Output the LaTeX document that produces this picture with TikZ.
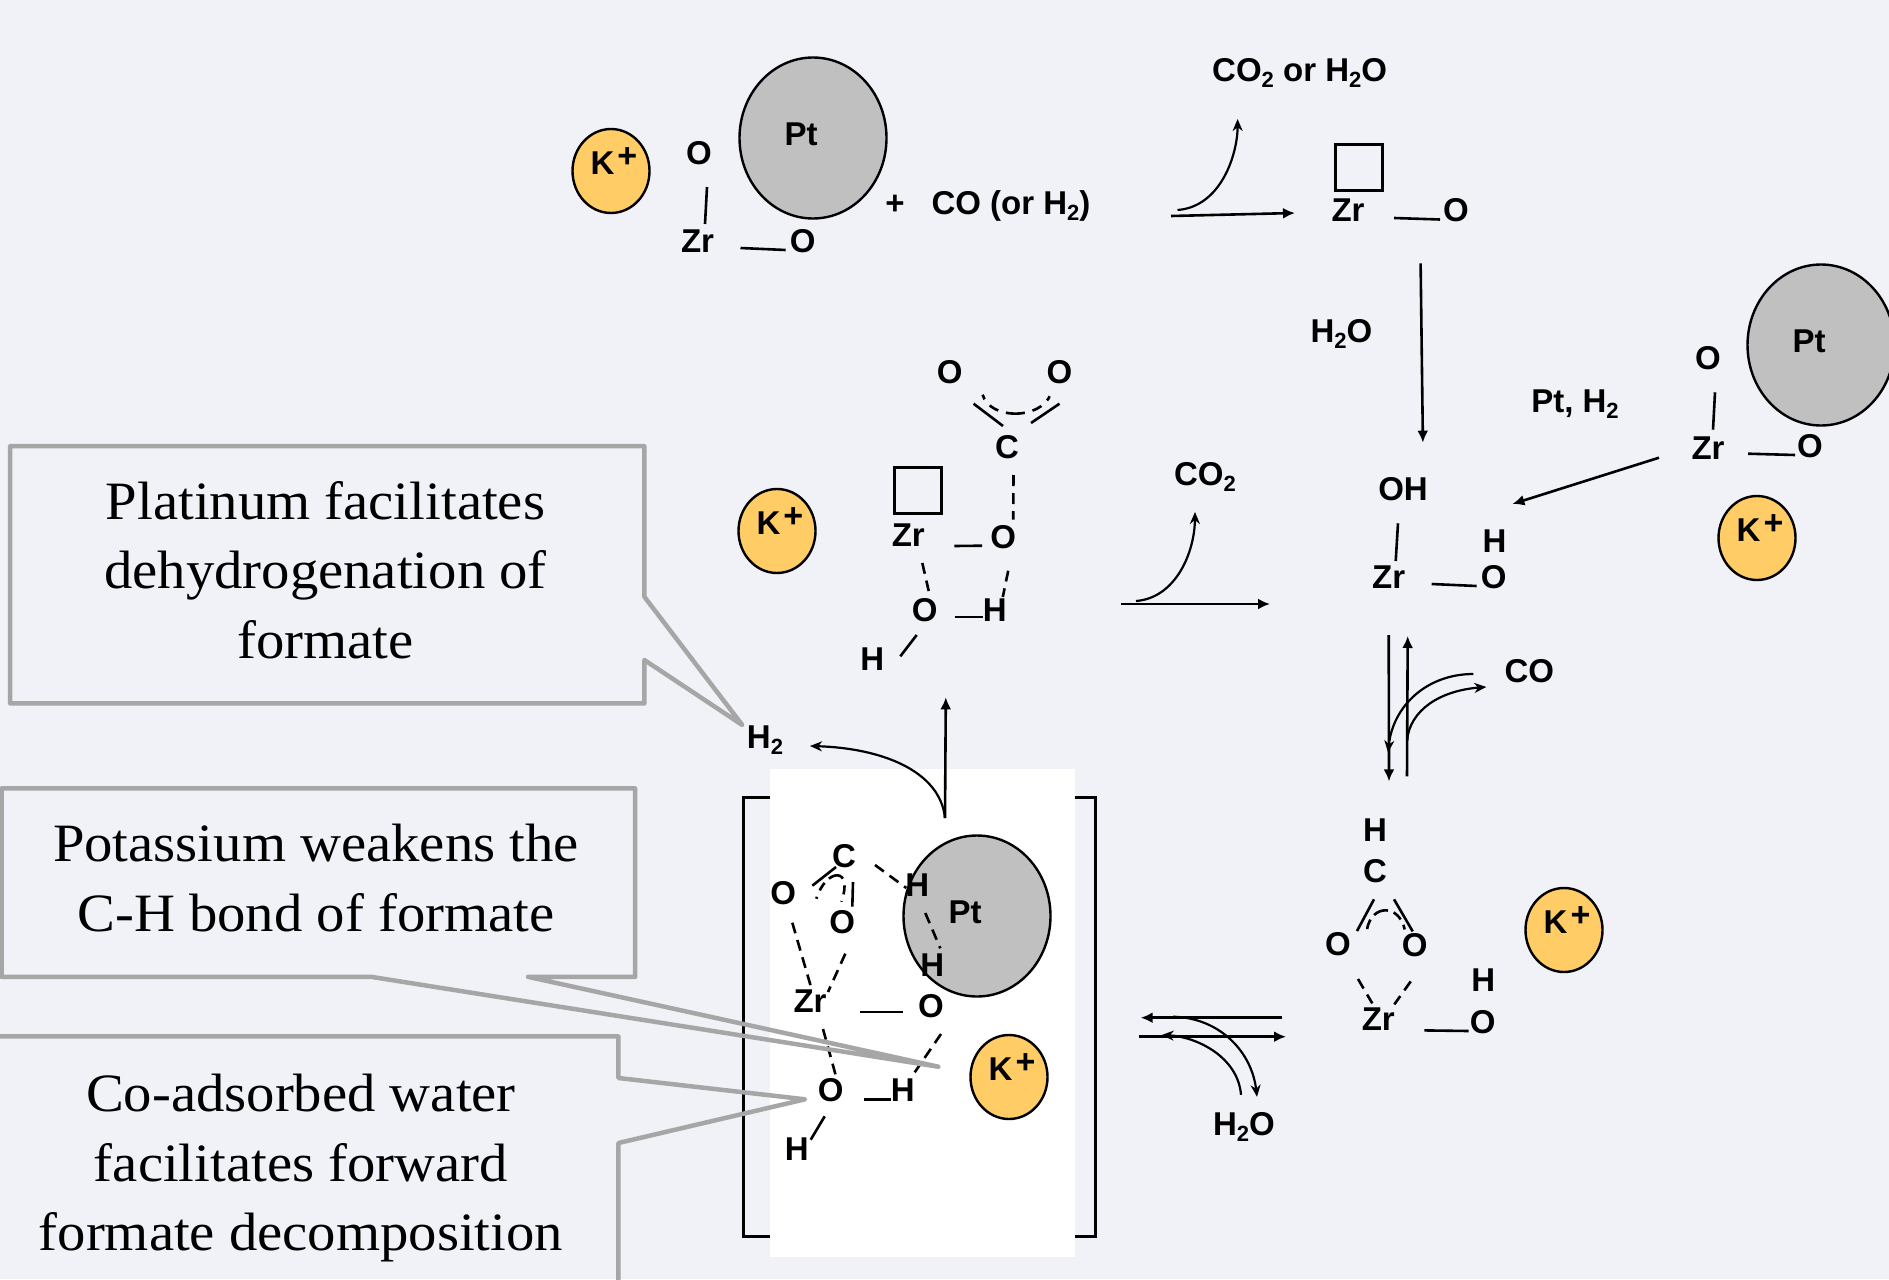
\documentclass[tikz,border=0pt]{standalone}
\usepackage{fontspec}
\setmainfont{Liberation Sans}
\newfontfamily\calloutfont[FakeStretch=1.05]{Liberation Serif}
\usetikzlibrary{arrows.meta,shapes.geometric}
\definecolor{pagebg}{HTML}{F0F2F8}
\definecolor{kfill}{HTML}{FFCC66}
\definecolor{ptfill}{HTML}{C0C0C0}
\definecolor{calloutgray}{HTML}{A6A6A6}
\newcommand{\subtwo}{\raisebox{-6pt}{\fontsize{22}{22}\selectfont 2}}
\newcommand{\kplus}{K\kern3pt\raisebox{7pt}{\fontsize{34}{34}\selectfont +}}

\begin{document}
\begin{tikzpicture}[x=1pt,y=-1pt,
	atom/.style={inner sep=0pt,outer sep=0pt,text height=25pt,text depth=0pt,font=\fontsize{33}{38}\selectfont\bfseries},
	kball/.style={ellipse,draw,fill=kfill,line width=2.4pt,minimum width=77pt,minimum height=84pt,inner sep=0pt},
	ptball/.style={ellipse,draw,fill=ptfill,line width=2.4pt,minimum width=147pt,minimum height=161pt,inner sep=0pt},
	vacancy/.style={draw,line width=3pt,inner sep=0pt,minimum width=47pt,minimum height=46pt},
	bond/.style={line width=2.6pt},
	dbond/.style={line width=2.6pt,dash pattern=on 11pt off 7pt},
	rxn/.style={line width=2.6pt,-{Latex[length=12pt,width=11pt]}},
	side/.style={line width=2.2pt,-{Stealth[length=12pt,width=10pt]}},
	bracket/.style={line width=3pt},
	callout/.style={draw=calloutgray,line width=4.5pt,line join=round},
	calltext/.style={inner sep=0pt,align=center,font=\calloutfont\fontsize{54}{69.5}\selectfont}]
	\fill[pagebg] (0,0) rectangle (1889,1279);
	\useasboundingbox (0,0) rectangle (1889,1279);

	\draw[bracket] (780,797) -- (743,797) -- (743,1236) -- (780,1236);
	\draw[bracket] (1060,797) -- (1095,797) -- (1095,1236) -- (1060,1236);
	\fill[white] (770,769) rectangle (1075,1257);

	\foreach \name/\x/\y in {k1/611/171,k2/1757/538,k3/777/531,k4/1564/930,k5/1009/1077} {
		\node[kball] (\name) at (\x,\y) {};
		\node[atom,anchor=base] (\name t) at ([shift={(3,3)}]\name.center) {\kplus};
	}
	\foreach \name/\x/\y in {pt1/813/138,pt2/1821/345,pt3/977/916} {
		\node[ptball] (\name) at (\x,\y) {};
		\node[atom] (\name t) at ([shift={(-12,-5)}]\name.center) {Pt};
	}

	\node[atom] (o1a) at (699,152) {O};
	\node[atom] (z1) at (697.5,240) {Zr};
	\node[atom] (o1b) at (802.6,240) {O};
	\node[atom] (plus1) at (895,201.7) {+};
	\node[atom] (co1) at (1011,201.7) {CO (or H\subtwo)};
	\node[atom] (off1) at (1299.6,69) {CO\subtwo{} or H\subtwo O};
	\node[vacancy] (box2) at (1359.4,167) {};
	\node[atom] (z2) at (1348,209) {Zr};
	\node[atom] (o2) at (1456,208.5) {O};
	\node[atom] (w2) at (1341.4,330) {H\subtwo O};

	\node[atom] (o3a) at (949.6,370.7) {O};
	\node[atom] (o3b) at (1059.5,370.7) {O};
	\node[atom] (c3) at (1007,446) {C};
	\node[vacancy] (box3) at (917.6,490) {};
	\node[atom] (z3) at (908.3,534) {Zr};
	\node[atom] (o3c) at (1003.2,535.7) {O};
	\node[atom] (o3d) at (924.7,609) {O};
	\node[atom] (h3a) at (994.8,609) {H};
	\node[atom] (h3b) at (872.3,658.3) {H};
	\node[atom] (off3) at (1205,473) {CO\subtwo};

	\node[atom] (oh4) at (1403,488.3) {OH};
	\node[atom] (z4) at (1388.7,576) {Zr};
	\node[atom] (o4) at (1493.6,576) {O};
	\node[atom] (h4) at (1494.4,540) {H};

	\node[atom] (o5a) at (1708,357.3) {O};
	\node[atom] (z5) at (1708,446.7) {Zr};
	\node[atom] (o5b) at (1810,445) {O};
	\node[atom] (pth) at (1575,400) {Pt, H\subtwo};

	\node[atom] (co6) at (1529.3,670) {CO};
	\node[atom] (h6) at (1375,829.4) {H};
	\node[atom] (c6) at (1375,870.3) {C};
	\node[atom] (o6a) at (1338,943) {O};
	\node[atom] (o6b) at (1414.7,944.4) {O};
	\node[atom] (z6) at (1378.3,1018.4) {Zr};
	\node[atom] (o6c) at (1482.7,1021) {O};
	\node[atom] (h6b) at (1483.3,979) {H};
	\node[atom] (w7) at (1244,1122.8) {H\subtwo O};

	\node[atom] (h2) at (765,736) {H\subtwo};
	\node[atom] (c8) at (844,855) {C};
	\node[atom] (o8a) at (783.3,891.7) {O};
	\node[atom] (o8b) at (842.3,920.7) {O};
	\node[atom] (h8a) at (917.3,884) {H};
	\node[atom] (h8b) at (932.3,964.3) {H};
	\node[atom] (z8) at (810,1000) {Zr};
	\node[atom] (o8c) at (931,1005) {O};
	\node[atom] (o8d) at (830.7,1089.3) {O};
	\node[atom] (h8c) at (902.7,1089.3) {H};
	\node[atom] (h8d) at (796.7,1147.7) {H};

	\draw[bond] ([shift={(8,35)}]o1a.center) -- ([shift={(7.5,-16)}]z1.center);
	\draw[bond] ([shift={(43,8)}]z1.center) -- ([shift={(-17,10)}]o1b.center);
	\draw[bond] ([shift={(46,9)}]z2.center) -- ([shift={(-16,11)}]o2.center);

	\draw[bond] ([shift={(24,33)}]o3a.center) -- ([shift={(-4,-20)}]c3.center);
	\draw[bond] ([shift={(0,33)}]o3b.center) -- ([shift={(24,-23)}]c3.center);
	\draw[bond,dash pattern=on 5pt off 8pt on 10pt off 8pt on 19pt off 8pt on 10pt off 8pt on 5pt off 8pt] ([shift={(33,24)}]o3a.center) .. controls (990,420) and (1040,420) .. ([shift={(-9,24)}]o3b.center);
	\draw[dbond] ([shift={(6.5,29)}]c3.center) -- ([shift={(10,-16)}]o3c.center);
	\draw[bond] ([shift={(46,12)}]z3.center) -- ([shift={(-21,10)}]o3c.center);
	\draw[dbond] ([shift={(14,29)}]z3.center) -- ([shift={(4,-18)}]o3d.center);
	\draw[dbond] ([shift={(5,35)}]o3c.center) -- ([shift={(8,-12)}]h3a.center);
	\draw[bond] ([shift={(30,8)}]o3d.center) -- ([shift={(-11.5,8)}]h3a.center);
	\draw[bond] ([shift={(-8,26)}]o3d.center) -- ([shift={(28,-2)}]h3b.center);

	\draw[bond] ([shift={(-5,35)}]oh4.center) -- ([shift={(7,-15)}]z4.center);
	\draw[bond] ([shift={(43,8)}]z4.center) -- ([shift={(-17,10)}]o4.center);
	\draw[bond] ([shift={(7,35)}]o5a.center) -- ([shift={(5,-17)}]z5.center);
	\draw[bond] ([shift={(40,7)}]z5.center) -- ([shift={(-15,10)}]o5b.center);

	\draw[bond] ([shift={(-1,29)}]c6.center) -- ([shift={(19,-12)}]o6a.center);
	\draw[bond] ([shift={(19,29)}]c6.center) -- ([shift={(-2,-13)}]o6b.center);
	\draw[bond,dash pattern=on 10pt off 6pt on 15pt off 6pt on 10pt off 6pt] ([shift={(29,-14)}]o6a.center) .. controls (1372,904) and (1399,904) .. ([shift={(-10,-15)}]o6b.center);
	\draw[dbond] ([shift={(20,36)}]o6a.center) -- ([shift={(-6,-15)}]z6.center);
	\draw[dbond] ([shift={(-4,37)}]o6b.center) -- ([shift={(16,-14)}]z6.center);
	\draw[bond] ([shift={(46,12)}]z6.center) -- ([shift={(-14,10)}]o6c.center);

	\draw[bond] ([shift={(29,-6)}]o8a.center) -- ([shift={(-8,12)}]c8.center);
	\draw[bond] ([shift={(9,27)}]c8.center) -- ([shift={(10,-14)}]o8b.center);
	\draw[bond,dash pattern=on 2pt off 7pt on 9pt off 6pt on 16pt off 7pt on 9pt off 7pt] ([shift={(33,7)}]o8a.center) .. controls (826,868) and (854,866) .. ([shift={(-1,-19)}]o8b.center);
	\draw[dbond] ([shift={(31,10)}]c8.center) -- ([shift={(-11,4)}]h8a.center);
	\draw[dbond] ([shift={(8,29)}]h8a.center) -- ([shift={(8,-16)}]h8b.center);
	\draw[dbond] ([shift={(9,31)}]o8a.center) -- ([shift={(1,-13)}]z8.center);
	\draw[dbond] ([shift={(3,33)}]o8b.center) -- ([shift={(18,-8)}]z8.center);
	\draw[bond] ([shift={(50,12)}]z8.center) -- ([shift={(-28,7)}]o8c.center);
	\draw[dbond] ([shift={(13,29)}]z8.center) -- ([shift={(5,-14)}]o8d.center);
	\draw[dbond] ([shift={(10,29)}]o8c.center) -- ([shift={(12,-17)}]h8c.center);
	\draw[bond] ([shift={(33,10)}]o8d.center) -- ([shift={(-12,10)}]h8c.center);
	\draw[bond] ([shift={(-6,27)}]o8d.center) -- ([shift={(14,-8)}]h8d.center);

	\coordinate (s1) at (1171,216);
	\coordinate (s1b) at (1177.5,210);
	\coordinate (s3) at (1121,604);
	\coordinate (e3) at (1270,604);
	\coordinate (s3b) at (1136,601);
	\coordinate (s7a) at (1282,1017.7);
	\coordinate (e7a) at (1140.7,1017.7);
	\coordinate (s7b) at (1139.3,1036.7);
	\coordinate (e7b) at (1286,1036.7);
	\coordinate (s7c) at (1173,1016.7);
	\coordinate (e7c) at (1161.7,1035);
	\coordinate (s8) at (945,818);
	\coordinate (e8) at (945.8,697.3);

	\draw[rxn] (s1) -- ([shift={(-53,4)}]z2.center);
	\draw[side] (s1b) .. controls (1221.6,206.7) and (1237.7,153) .. ([shift={(-62,50)}]off1.center);
	\draw[rxn] ([shift={(-35.4,54.8)}]o2.center) -- ([shift={(19.9,-45.6)}]oh4.center);
	\draw[rxn] ([shift={(-49,11)}]z5.center) -- ([shift={(18,-36)}]h4.center);
	\draw[rxn] (s3) -- (e3);
	\draw[side] (s3b) .. controls (1175.4,598) and (1194.6,553) .. ([shift={(-10,39)}]off3.center);
	\draw[rxn] ([shift={(0,59)}]z4.center) -- ([shift={(14,-48)}]h6.center);
	\draw[rxn] ([shift={(32,-53)}]h6.center) -- ([shift={(19,60)}]z4.center);
	\draw[side] ([shift={(-56,4)}]co6.center) .. controls (1426.7,674) and (1393,706) .. ([shift={(13,-77)}]h6.center);
	\draw[side] ([shift={(32,-89)}]h6.center) .. controls (1410,710) and (1440,690.6) .. ([shift={(-43,17)}]co6.center);
	\draw[rxn] (s7a) -- (e7a);
	\draw[rxn] (s7b) -- (e7b);
	\draw[side] (s7c) .. controls (1220,1017.7) and (1251.7,1052) .. ([shift={(13,-26)}]w7.center);
	\draw[side] ([shift={(-3,-28)}]w7.center) .. controls (1238,1057) and (1196.7,1036.7) .. (e7c);
	\draw[rxn] (s8) -- (e8);
	\draw[side] (s8) .. controls (940,770) and (880,748) .. ([shift={(45,10)}]h2.center);

	\node[calltext] (note1) at (325.5,570) {Platinum facilitates\\dehydrogenation of\\formate};
	\node[calltext] (note2) at (316,878) {Potassium weakens the\\C-H bond of formate};
	\node[calltext] (note3) at (301,1168) {Co-adsorbed water\\facilitates forward\\formate decomposition};
	\draw[callout] (10.2,446.2) -- (644.4,446.2) -- (644.4,596.8) -- (742.3,725) -- (644.4,660) -- (644.4,703.4) -- (10.2,703.4) -- cycle;
	\draw[callout] (1.5,788.4) -- (635.2,788.4) -- (635.2,976.8) -- (528,976.8) -- (938.3,1066.7) -- (371,976.8) -- (1.5,976.8) -- cycle;
	\draw[callout] (-10,1036.4) -- (618.4,1036.4) -- (618.4,1078) -- (805,1099.3) -- (618.4,1143) -- (618.4,1295);
\end{tikzpicture}
\end{document}
